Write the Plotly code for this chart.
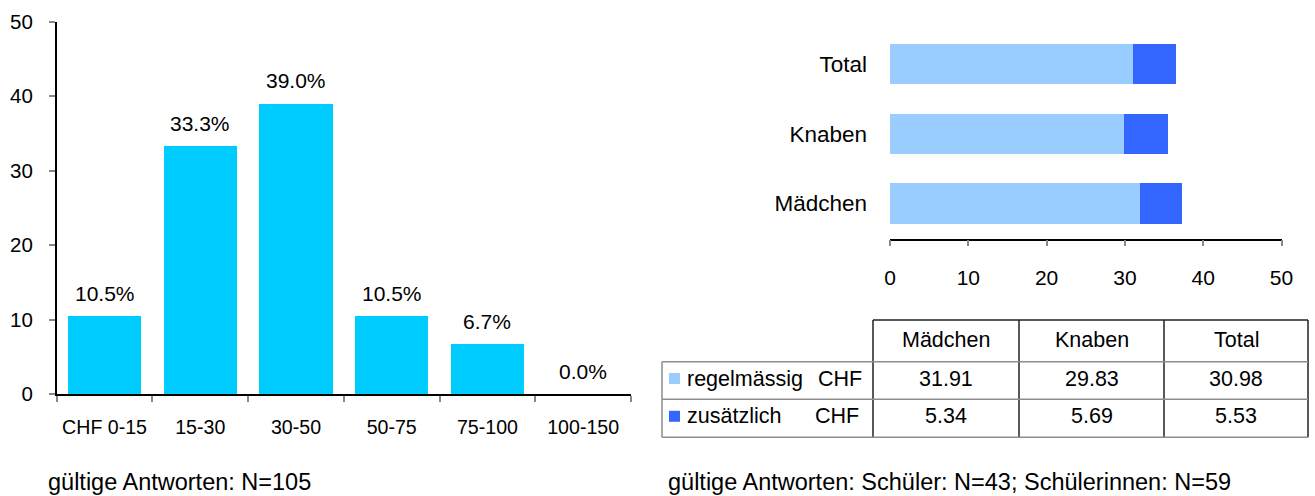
import plotly.graph_objects as go

# ---------------- data ----------------
categories = ["CHF 0-15", "15-30", "30-50", "50-75", "75-100", "100-150"]
percent = [10.5, 33.3, 39.0, 10.5, 6.7, 0.0]

groups = ["Mädchen", "Knaben", "Total"]
regel = [31.91, 29.83, 30.98]
zus = [5.34, 5.69, 5.53]
series_names = ["regelmässig", "zusätzlich"]
unit = "CHF"

left_ticks = [0, 10, 20, 30, 40, 50]
right_ticks = [0, 10, 20, 30, 40, 50]

note_left = "gültige Antworten: N=105"
note_right = "gültige Antworten: Schüler: N=43; Schülerinnen: N=59"

# ---------------- style ----------------
W, H = 1315, 496
FONT = "Liberation Sans, Arial, sans-serif"
C_LEFT = "#00CCFF"
C_REG = "#99CCFF"
C_ZUS = "#3366FF"
TICKC = "#888888"


def X(px):
    return px / W


def Y(py):
    return 1 - py / H


fig = go.Figure()

# left histogram-like bars
fig.add_trace(go.Bar(
    x=categories, y=percent, marker=dict(color=C_LEFT, line=dict(width=0)),
    width=0.767, xaxis="x", yaxis="y", showlegend=False, hoverinfo="x+y"))

# right stacked horizontal bars
fig.add_trace(go.Bar(
    y=groups, x=regel, orientation="h", name=series_names[0],
    marker=dict(color=C_REG, line=dict(width=0)), width=0.576,
    xaxis="x2", yaxis="y2", showlegend=False))
fig.add_trace(go.Bar(
    y=groups, x=zus, orientation="h", name=series_names[1],
    marker=dict(color=C_ZUS, line=dict(width=0)), width=0.576,
    xaxis="x2", yaxis="y2", showlegend=False))

annotations = []
# data labels on left chart
for c, v in zip(categories, percent):
    annotations.append(dict(
        x=c, y=v, xref="x", yref="y", text=f"{v:.1f}%", showarrow=False,
        yanchor="middle", yshift=23, font=dict(size=21, color="black", family=FONT)))

# ---------------- table ----------------
tbl_left, tbl_right = 662, 1308
col_x = [873, 1019, 1164, 1308]
row_y = [320, 361.7, 399.3, 437.3]
shapes = []
dark = dict(color="#222222", width=1.5)
gray = dict(color="#8c8c8c", width=1.5)
# top line of header
shapes.append(dict(type="line", xref="paper", yref="paper", x0=X(col_x[0]), x1=X(col_x[-1]),
                   y0=Y(row_y[0]), y1=Y(row_y[0]), line=dark))
# vertical lines
for cx in col_x:
    shapes.append(dict(type="line", xref="paper", yref="paper", x0=X(cx), x1=X(cx),
                       y0=Y(row_y[0]), y1=Y(row_y[-1]), line=dark))
shapes.append(dict(type="line", xref="paper", yref="paper", x0=X(tbl_left), x1=X(tbl_left),
                   y0=Y(row_y[1]), y1=Y(row_y[-1]), line=gray))
# horizontal lines
for ry in row_y[1:]:
    shapes.append(dict(type="line", xref="paper", yref="paper", x0=X(tbl_left), x1=X(tbl_right),
                       y0=Y(ry), y1=Y(ry), line=gray))

tfont = dict(size=21.5, color="black", family=FONT)
# header
for i, g in enumerate(groups):
    cx = (col_x[i] + col_x[i + 1]) / 2
    annotations.append(dict(x=X(cx), y=Y((row_y[0] + row_y[1]) / 2 - 1), xref="paper", yref="paper",
                            text=g, showarrow=False, xanchor="center", yanchor="middle", font=tfont))
# rows
rows = [regel, zus]
colors = [C_REG, C_ZUS]
chf_right = [864, 861]
for r, (vals, nm, col) in enumerate(zip(rows, series_names, colors)):
    cy = (row_y[r + 1] + row_y[r + 2]) / 2 - 2
    shapes.append(dict(type="rect", xref="paper", yref="paper", x0=X(669), x1=X(680),
                       y0=Y(cy + 5.5), y1=Y(cy - 5.5), fillcolor=col, line=dict(width=0)))
    annotations.append(dict(x=X(685), y=Y(cy), xref="paper", yref="paper", text=nm,
                            showarrow=False, xanchor="left", yanchor="middle", font=tfont))
    annotations.append(dict(x=X(chf_right[r]), y=Y(cy), xref="paper", yref="paper", text=unit,
                            showarrow=False, xanchor="right", yanchor="middle", font=tfont))
    for i, v in enumerate(vals):
        cx = (col_x[i] + col_x[i + 1]) / 2
        annotations.append(dict(x=X(cx), y=Y(cy), xref="paper", yref="paper", text=f"{v:.2f}",
                                showarrow=False, xanchor="center", yanchor="middle", font=tfont))

# footnotes
nfont = dict(size=23.5, color="black", family=FONT)
annotations.append(dict(x=X(46), y=Y(482), xref="paper", yref="paper", text=note_left,
                        showarrow=False, xanchor="left", yanchor="middle", font=nfont))
annotations.append(dict(x=X(666), y=Y(482), xref="paper", yref="paper", text=note_right,
                        showarrow=False, xanchor="left", yanchor="middle", font=nfont))

fig.update_layout(
    width=W, height=H, margin=dict(l=0, r=0, t=0, b=0, autoexpand=False),
    paper_bgcolor="white", plot_bgcolor="white",
    font=dict(family=FONT, color="black"),
    barmode="stack", showlegend=False,
    xaxis=dict(domain=[X(56.7), X(631)], type="category", range=[-0.5, 5.5], automargin=False,
               showline=True, linecolor="black", linewidth=1.5, tickangle=0,
               ticks="outside", tickson="boundaries", ticklen=6, tickcolor=TICKC, tickwidth=1.5,
               showgrid=False, zeroline=False, tickfont=dict(size=19.6, color="black"),
               ticklabelstandoff=14, fixedrange=True),
    yaxis=dict(domain=[Y(394.3), Y(21.5)], range=[0, 50], tickvals=left_ticks, automargin=False,
               showline=True, linecolor="black", linewidth=1.5,
               ticks="outside", ticklen=6, tickcolor=TICKC, tickwidth=1.5,
               showgrid=False, zeroline=False, tickfont=dict(size=20.5, color="black"),
               ticklabelstandoff=12, fixedrange=True),
    xaxis2=dict(domain=[X(890), X(1281.5)], range=[0, 50], tickvals=right_ticks, anchor="y2",
                automargin=False, tickangle=0,
                showline=True, linecolor="black", linewidth=1.5,
                ticks="outside", ticklen=6, tickcolor=TICKC, tickwidth=1.5,
                showgrid=False, zeroline=False, tickfont=dict(size=21, color="black"),
                ticklabelstandoff=14, fixedrange=True),
    yaxis2=dict(domain=[Y(238.5), Y(29)], type="category", range=[-0.5, 2.5], anchor="x2",
                automargin=False,
                showline=False, ticks="", showgrid=False, zeroline=False,
                tickfont=dict(size=22.5, color="black"), ticklabelstandoff=22, fixedrange=True),
    shapes=shapes, annotations=annotations,
)

fig.write_html("out.html", post_script="document.body.style.margin='0';",
               config={"displayModeBar": False})
